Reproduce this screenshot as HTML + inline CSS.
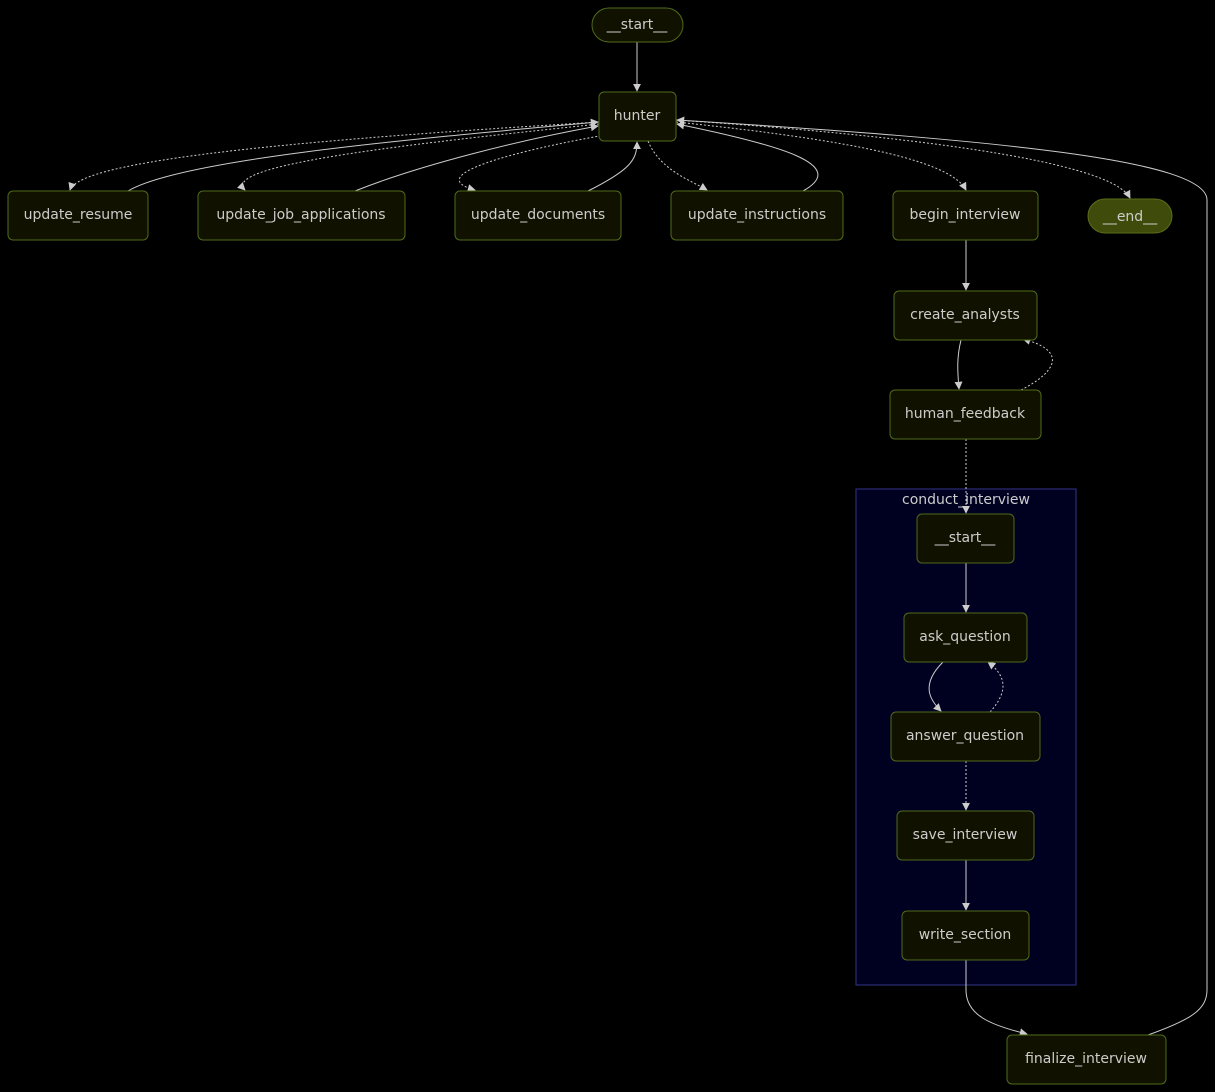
<!DOCTYPE html>
<html><head><meta charset="utf-8"><style>
html,body{margin:0;padding:0;background:#000;}
svg{display:block;}
text{font-family:"DejaVu Sans","Liberation Sans",sans-serif;font-size:14px;fill:#ccc;text-anchor:middle;dominant-baseline:central;}
.n{fill:#111100;stroke:#4f6a1a;stroke-width:1;}
.e{fill:none;stroke:#ccc;stroke-width:1;}
.d{fill:none;stroke:#ccc;stroke-width:1;stroke-dasharray:2,2;}
</style></head><body>
<svg width="1215" height="1092" viewBox="0 0 1215 1092">
<defs><marker id="a" viewBox="0 0 10 10" refX="9" refY="5" markerWidth="8" markerHeight="8" orient="auto"><path d="M0,0L10,5L0,10z" fill="#ccc"/></marker></defs>
<rect x="856" y="489" width="220" height="496" fill="#000020" stroke="#33338a"/>
<text x="966" y="500">conduct_interview</text>
<path class="e" d="M637,42V91" marker-end="url(#a)"/>
<path class="d" d="M599,122C300,140 80,160 70,190" marker-end="url(#a)"/>
<path class="e" d="M128,191C180,160 400,140 598,122" marker-end="url(#a)"/>
<path class="d" d="M599,124C400,145 220,165 245,190" marker-end="url(#a)"/>
<path class="e" d="M355,191C420,165 520,140 598,126" marker-end="url(#a)"/>
<path class="d" d="M605,135C520,150 420,175 475,190" marker-end="url(#a)"/>
<path class="e" d="M588,191C630,170 637,160 637,142" marker-end="url(#a)"/>
<path class="d" d="M648,141C660,170 690,180 707,190" marker-end="url(#a)"/>
<path class="e" d="M803,191C850,165 780,145 677,124" marker-end="url(#a)"/>
<path class="d" d="M676,122C850,140 950,160 966,190" marker-end="url(#a)"/>
<path class="d" d="M676,120C900,135 1110,160 1130,198" marker-end="url(#a)"/>
<path class="e" d="M1148,1035C1190,1020 1207,1010 1207,990V200C1207,160 1000,140 677,120" marker-end="url(#a)"/>
<path class="e" d="M966,240V290" marker-end="url(#a)"/>
<path class="e" d="M961,340C956,360 958,375 959,389" marker-end="url(#a)"/>
<path class="d" d="M1021,390C1060,370 1065,350 1023,339" marker-end="url(#a)"/>
<path class="d" d="M966,439V513" marker-end="url(#a)"/>
<path class="e" d="M966,563V612" marker-end="url(#a)"/>
<path class="e" d="M943,662C920,685 930,700 941,711" marker-end="url(#a)"/>
<path class="d" d="M990,712C1010,690 1005,675 988,662" marker-end="url(#a)"/>
<path class="d" d="M966,761V810" marker-end="url(#a)"/>
<path class="e" d="M966,860V910" marker-end="url(#a)"/>
<path class="e" d="M966,960V990C966,1015 990,1025 1027,1034" marker-end="url(#a)"/>
<rect class="n" x="592" y="8" width="91" height="34" rx="17"/><text x="637" y="25">__start__</text>
<rect class="n" x="599" y="92" width="77" height="49" rx="5"/><text x="637" y="116">hunter</text>
<rect class="n" x="8" y="191" width="140" height="49" rx="5"/><text x="78" y="215">update_resume</text>
<rect class="n" x="198" y="191" width="207" height="49" rx="5"/><text x="301" y="215">update_job_applications</text>
<rect class="n" x="455" y="191" width="166" height="49" rx="5"/><text x="538" y="215">update_documents</text>
<rect class="n" x="671" y="191" width="172" height="49" rx="5"/><text x="757" y="215">update_instructions</text>
<rect class="n" x="893" y="191" width="145" height="49" rx="5"/><text x="965" y="215">begin_interview</text>
<rect x="1088" y="199" width="84" height="34" rx="17" fill="#3f4b0a" stroke="#5a6e1a"/><text x="1130" y="217">__end__</text>
<rect class="n" x="894" y="291" width="143" height="49" rx="5"/><text x="965" y="315">create_analysts</text>
<rect class="n" x="890" y="390" width="151" height="49" rx="5"/><text x="965" y="414">human_feedback</text>
<rect class="n" x="917" y="514" width="97" height="49" rx="5"/><text x="965" y="538">__start__</text>
<rect class="n" x="904" y="613" width="123" height="49" rx="5"/><text x="965" y="637">ask_question</text>
<rect class="n" x="891" y="712" width="149" height="49" rx="5"/><text x="965" y="736">answer_question</text>
<rect class="n" x="897" y="811" width="137" height="49" rx="5"/><text x="965" y="835">save_interview</text>
<rect class="n" x="902" y="911" width="127" height="49" rx="5"/><text x="965" y="935">write_section</text>
<rect class="n" x="1007" y="1035" width="159" height="49" rx="5"/><text x="1086" y="1059">finalize_interview</text>
</svg>
</body></html>
